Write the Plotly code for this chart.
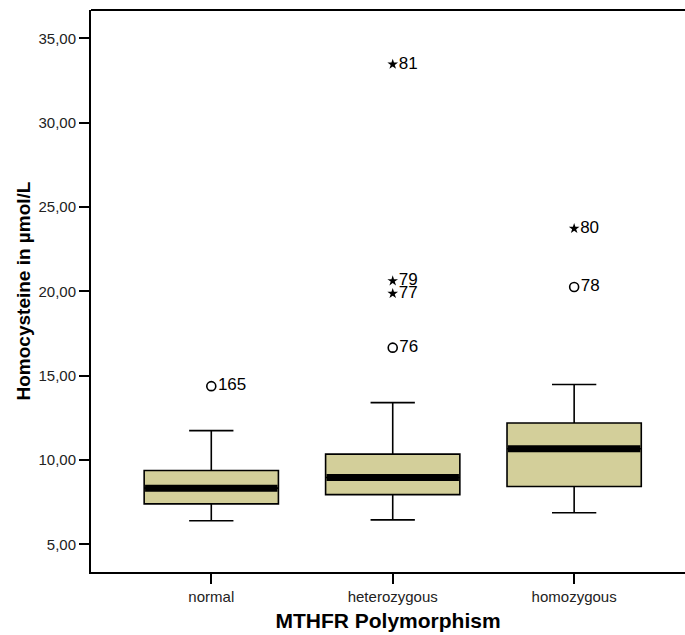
import plotly.graph_objects as go

categories = ["normal", "heterozygous", "homozygous"]
q1 = [7.40, 7.95, 8.43]
median = [8.33, 8.96, 10.67]
q3 = [9.38, 10.35, 12.19]
lower_whisker = [6.40, 6.45, 6.87]
upper_whisker = [11.74, 13.40, 14.48]

# outliers: (category index, value, case label)
circle_cat = [0, 1, 2]
circle_val = [14.38, 16.66, 20.26]
circle_lbl = ["165", "76", "78"]

star_cat = [1, 1, 1, 2]
star_val = [33.46, 20.62, 19.87, 23.72]
star_lbl = ["81", "79", "77", "80"]

yticks = [5, 10, 15, 20, 25, 30, 35]
ytick_text = ["5,00", "10,00", "15,00", "20,00", "25,00", "30,00", "35,00"]

BOX_W = 0.74
FILL = "#D3CF9A"
FONT = "Liberation Sans, Arial, sans-serif"

fig = go.Figure()
for i in range(len(categories)):
    fig.add_trace(go.Box(
        x=[i], q1=[q1[i]], median=[median[i]], q3=[q3[i]],
        lowerfence=[lower_whisker[i]], upperfence=[upper_whisker[i]],
        width=BOX_W, whiskerwidth=0.33, fillcolor=FILL,
        line=dict(color="black", width=1.6), boxpoints=False,
        showlegend=False, hoverinfo="skip"))

mx, my = [], []
for i in range(len(categories)):
    mx += [i - BOX_W / 2 + 0.005, i + BOX_W / 2 - 0.005, None]
    my += [median[i], median[i], None]
fig.add_trace(go.Scatter(x=mx, y=my, mode="lines",
                         line=dict(color="black", width=7), showlegend=False,
                         hoverinfo="skip"))

fig.add_trace(go.Scatter(
    x=circle_cat, y=circle_val, mode="markers+text", text=circle_lbl,
    textposition="middle right",
    textfont=dict(family=FONT, size=17, color="black"),
    marker=dict(symbol="circle-open", size=9, color="black", line=dict(width=1.6)),
    showlegend=False))
fig.add_trace(go.Scatter(
    x=star_cat, y=star_val, mode="markers+text", text=star_lbl,
    textposition="middle right",
    textfont=dict(family=FONT, size=17, color="black"),
    marker=dict(symbol="star", size=8, color="black"),
    showlegend=False))

# top frame line (plot-area border)
fig.add_shape(type="line", xref="paper", yref="paper", x0=0, x1=1, y0=1, y1=1,
              line=dict(color="black", width=2))

fig.update_layout(
    width=685, height=635,
    margin=dict(l=91, r=0, t=10, b=63),
    plot_bgcolor="white", paper_bgcolor="white",
    font=dict(family=FONT, color="black"),
    xaxis=dict(range=[-0.663, 2.611], tickmode="array", tickvals=[0, 1, 2],
               ticktext=categories, ticks="outside", ticklen=10, tickwidth=1.5,
               tickcolor="black", showline=True, linecolor="black", linewidth=2,
               mirror=False, showgrid=False, zeroline=False,
               tickfont=dict(size=15, color="#222"),
               title=dict(text="<b>MTHFR Polymorphism</b>", font=dict(size=21), standoff=9)),
    yaxis=dict(range=[3.36, 36.68], tickmode="array", tickvals=yticks,
               ticktext=ytick_text, ticks="outside", ticklen=10, tickwidth=1.5,
               tickcolor="black", showline=True, linecolor="black", linewidth=2,
               mirror=False, showgrid=False, zeroline=False,
               tickfont=dict(size=15, color="#222"),
               title=dict(text="<b>Homocysteine in µmol/L</b>", font=dict(size=19), standoff=3)),
)

fig.write_html("out.html")
